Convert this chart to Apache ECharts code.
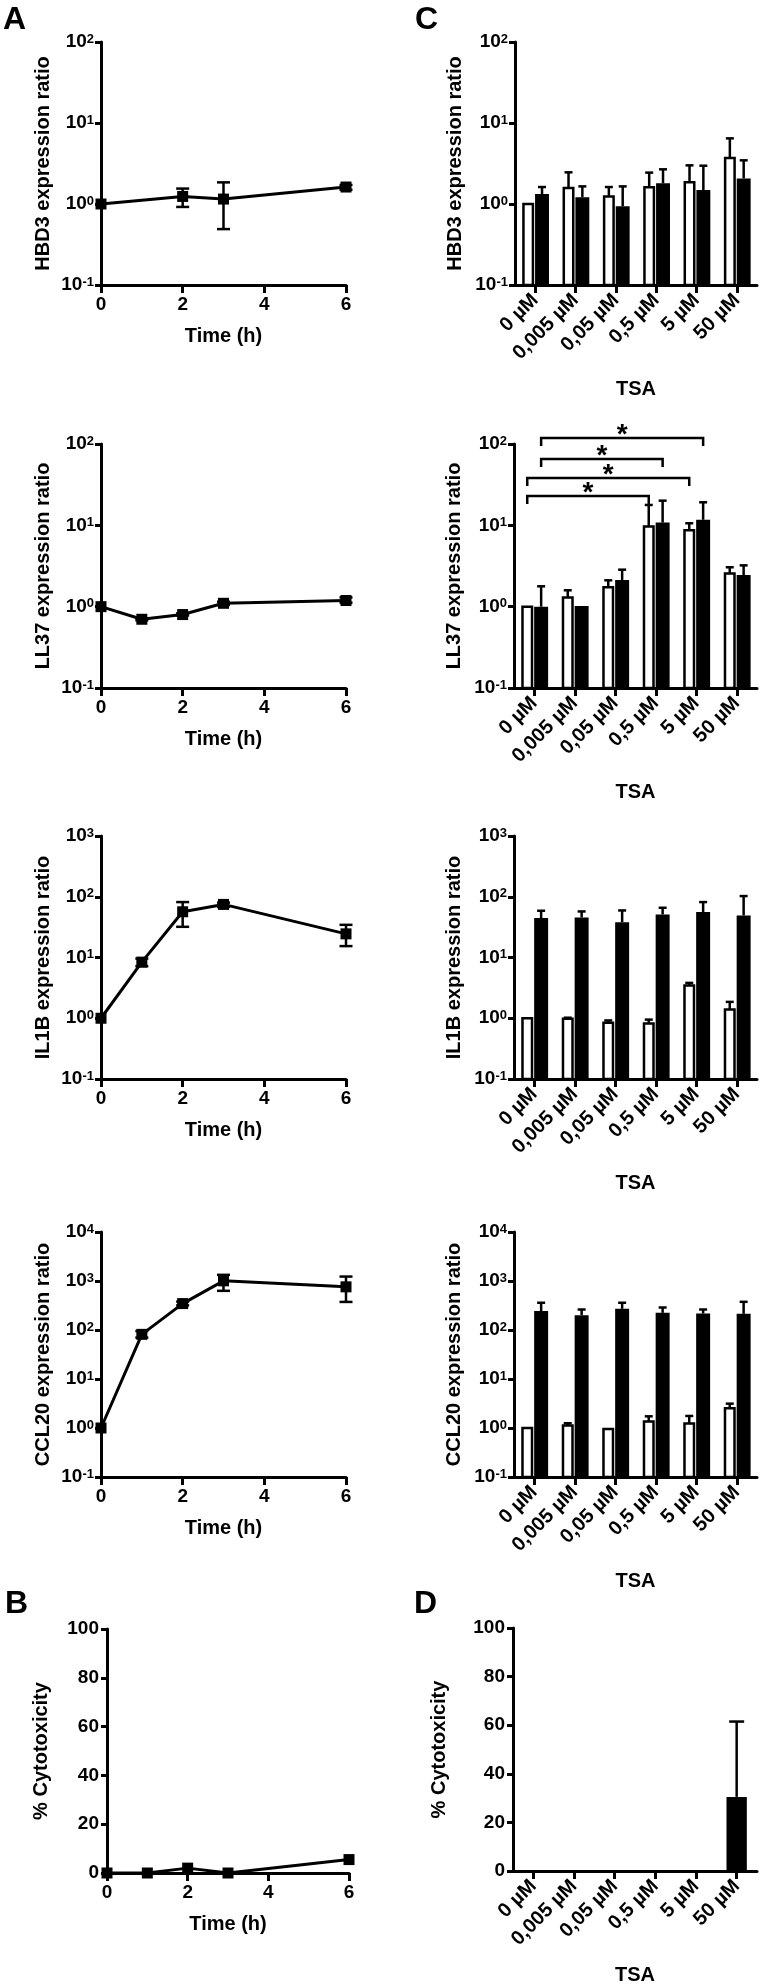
<!DOCTYPE html>
<html>
<head>
<meta charset="utf-8">
<script src="https://cdn.jsdelivr.net/npm/echarts@6/dist/echarts.min.js"></script>
<style>
html, body { margin: 0; padding: 0; background: #fff; }
#main { width: 760px; height: 1986px; }
</style>
</head>
<body>
<div id="main"></div>
<script>
var FONT = '"Liberation Sans", Arial, Helvetica, sans-serif';

// ---- time course data (panels A and B) ----
var hours = [0, 1, 2, 3, 6];
var hoursHBD3 = [0, 2, 3, 6];

var hbd3Time   = [1.0, 1.24, 1.15, 1.62];
var hbd3TimeLo = [null, 0.92, 0.49, 1.5];
var hbd3TimeHi = [null, 1.55, 1.85, 1.72];

var ll37Time   = [1.0, 0.70, 0.80, 1.10, 1.19];
var ll37TimeLo = [null, 0.68, 0.78, 1.05, 1.12];
var ll37TimeHi = [null, 0.72, 0.83, 1.15, 1.30];

var il1bTime   = [1.0, 8.4, 56.6, 74.8, 24.5];
var il1bTimeLo = [null, 7.2, 32, 68, 15.4];
var il1bTimeHi = [null, 9.6, 81.7, 80, 34.5];

var ccl20Time   = [1.0, 81.5, 346, 1007, 760];
var ccl20TimeLo = [null, 70, 318, 630, 374];
var ccl20TimeHi = [null, 95, 380, 1336, 1232];

var cytoTime = [0, 0, 2.0, 0, 5.5];

// ---- TSA dose data (panels C and D) ----
var tsaGroups = ['0 µM', '0,005 µM', '0,05 µM', '0,5 µM', '5 µM', '50 µM'];

var hbd3White   = [1.0, 1.58, 1.24, 1.61, 1.85, 3.7];
var hbd3WhiteHi = [null, 2.46, 1.62, 2.44, 3.0, 6.46];
var hbd3Black   = [1.33, 1.21, 0.94, 1.8, 1.49, 2.07];
var hbd3BlackHi = [1.62, 1.65, 1.65, 2.68, 2.97, 3.46];

var ll37White   = [1.0, 1.30, 1.73, 9.7, 8.7, 2.55];
var ll37WhiteHi = [null, 1.59, 2.11, 17.8, 10.6, 3.05];
var ll37Black   = [1.0, 1.02, 2.13, 10.8, 11.7, 2.45];
var ll37BlackHi = [1.78, null, 2.85, 20.1, 19.2, 3.22];

// significance brackets: [from group, from bar (0 white / 1 black), to group, to bar, level]
var ll37Brackets = [
    [0, 0, 3, 0, 22.9],
    [0, 0, 4, 0, 38.2],
    [0, 1, 3, 1, 65.3],
    [0, 1, 4, 1, 118.6]
];

var il1bWhite   = [1.0, 0.98, 0.84, 0.82, 3.45, 1.39];
var il1bWhiteHi = [null, 1.02, 0.92, 0.95, 3.82, 1.86];
var il1bBlack   = [44.5, 45.6, 38.2, 51.2, 55.9, 49.2];
var il1bBlackHi = [58.8, 57.3, 59.5, 65.9, 81.7, 102.6];

var ccl20White   = [1.0, 1.12, 0.95, 1.35, 1.23, 2.52];
var ccl20WhiteHi = [null, 1.25, null, 1.73, 1.76, 3.14];
var ccl20Black   = [243, 201, 271, 224, 217, 214];
var ccl20BlackHi = [360, 262, 360, 288, 262, 376];

var cytoTsa   = [0, 0, 0, 0, 0, 30.5];
var cytoTsaHi = [null, null, null, null, null, 61.5];

// ---- styling helpers ----
var axisLineStyle = { show: true, onZero: false, lineStyle: { color: '#000', width: 3 } };
var nameStyle = { fontSize: 20, fontWeight: 'bold', fontFamily: FONT, color: '#000' };
var tickFont = { fontSize: 19, fontWeight: 'bold', fontFamily: FONT, color: '#000' };

var WHITE_OFF = -0.173, WHITE_W = 0.235;
var BLACK_OFF = 0.17, BLACK_W = 0.345;

function timeAxis(gi) {
    return {
        type: 'value', gridIndex: gi, min: 0, max: 6, interval: 2,
        name: 'Time (h)', nameLocation: 'middle', nameGap: 41, nameTextStyle: nameStyle,
        axisLine: axisLineStyle,
        axisTick: { show: true, length: 8, lineStyle: { color: '#000', width: 3 } },
        axisLabel: Object.assign({ margin: 10 }, tickFont),
        splitLine: { show: false }
    };
}

function tsaAxis(gi) {
    return {
        type: 'category', gridIndex: gi, data: tsaGroups,
        name: 'TSA', nameLocation: 'middle', nameGap: 94, nameTextStyle: nameStyle,
        axisLine: axisLineStyle,
        axisTick: { show: true, alignWithLabel: true, length: 8, lineStyle: { color: '#000', width: 3 } },
        axisLabel: { rotate: 45, margin: 12, interval: 0, fontSize: 20, fontWeight: 'bold', fontFamily: FONT, color: '#000' },
        splitLine: { show: false }
    };
}

function logAxis(gi, max, name, gap) {
    return {
        type: 'log', logBase: 10, gridIndex: gi, min: 0.1, max: max,
        name: name, nameLocation: 'middle', nameGap: gap, nameTextStyle: nameStyle,
        axisLine: axisLineStyle,
        axisTick: { show: true, length: 6, lineStyle: { color: '#000', width: 3 } },
        axisLabel: {
            margin: 7,
            formatter: function (v) { return '{b|10}{s|' + Math.round(Math.log10(v)) + '}'; },
            rich: {
                b: { fontSize: 19, fontWeight: 'bold', fontFamily: FONT, color: '#000' },
                s: { fontSize: 13, fontWeight: 'bold', fontFamily: FONT, color: '#000', verticalAlign: 'top', lineHeight: 13 }
            }
        },
        splitLine: { show: false },
        minorTick: { show: false }
    };
}

function pctAxis(gi, gap) {
    return {
        type: 'value', gridIndex: gi, min: 0, max: 100, interval: 20,
        name: '% Cytotoxicity', nameLocation: 'middle', nameGap: gap, nameTextStyle: nameStyle,
        axisLine: axisLineStyle,
        axisTick: { show: true, length: 6, lineStyle: { color: '#000', width: 3 } },
        axisLabel: Object.assign({ margin: 8 }, tickFont),
        splitLine: { show: false }
    };
}

function zip(xs, ys) {
    return xs.map(function (x, i) { return [x, ys[i]]; });
}

function lineSeries(gi, xs, ys) {
    return {
        type: 'line', xAxisIndex: gi, yAxisIndex: gi, data: zip(xs, ys),
        symbol: 'rect', symbolSize: 11, clip: false, z: 4,
        itemStyle: { color: '#000' },
        lineStyle: { color: '#000', width: 3 }
    };
}

function errSeries(gi, xs, lo, hi) {
    var data = [];
    xs.forEach(function (x, i) {
        if (lo[i] != null) data.push([x, lo[i], hi[i]]);
    });
    return {
        type: 'custom', xAxisIndex: gi, yAxisIndex: gi, data: data, z: 3, clip: false,
        encode: { x: 0, y: [1, 2] },
        renderItem: function (params, api) {
            var p1 = api.coord([api.value(0), api.value(1)]);
            var p2 = api.coord([api.value(0), api.value(2)]);
            var st = { stroke: '#000', lineWidth: 2.5 };
            var cap = 13;
            return {
                type: 'group', children: [
                    { type: 'line', shape: { x1: p1[0], y1: p1[1], x2: p2[0], y2: p2[1] }, style: st },
                    { type: 'line', shape: { x1: p1[0] - cap / 2, y1: p1[1], x2: p1[0] + cap / 2, y2: p1[1] }, style: st },
                    { type: 'line', shape: { x1: p2[0] - cap / 2, y1: p2[1], x2: p2[0] + cap / 2, y2: p2[1] }, style: st }
                ]
            };
        }
    };
}

// bars drawn from the axis minimum (log axes would otherwise start at 1)
function barSeries(gi, vals, his, offset, width, filled, base, cap) {
    return {
        type: 'custom', xAxisIndex: gi, yAxisIndex: gi, z: 2, clip: false,
        data: vals.map(function (v, i) { return [i, v, his[i] == null ? 0 : his[i]]; }),
        encode: { x: 0, y: 1 },
        renderItem: function (params, api) {
            var i = api.value(0), v = api.value(1), hi = api.value(2);
            var band = api.coord([1, base])[0] - api.coord([0, base])[0];
            var top = api.coord([i, v]);
            var bottom = api.coord([i, base]);
            var cx = top[0] + offset * band;
            var w = width * band;
            var children = [];
            if (hi > v) {
                var ph = api.coord([i, hi]);
                var st = { stroke: '#000', lineWidth: 2.5 };
                children.push({ type: 'line', shape: { x1: cx, y1: top[1], x2: cx, y2: ph[1] }, style: st });
                children.push({ type: 'line', shape: { x1: cx - cap / 2, y1: ph[1], x2: cx + cap / 2, y2: ph[1] }, style: st });
            }
            children.push({
                type: 'rect',
                shape: { x: cx - w / 2, y: top[1], width: w, height: bottom[1] - top[1] },
                style: filled ? { fill: '#000' } : { fill: '#fff', stroke: '#000', lineWidth: 2.5 }
            });
            return { type: 'group', children: children };
        }
    };
}

function bracketSeries(gi, brackets) {
    return {
        type: 'custom', xAxisIndex: gi, yAxisIndex: gi, z: 5, clip: false,
        data: brackets,
        encode: { x: 0, y: 4 },
        renderItem: function (params, api) {
            var g1 = api.value(0), s1 = api.value(1), g2 = api.value(2), s2 = api.value(3), lvl = api.value(4);
            var band = api.coord([1, lvl])[0] - api.coord([0, lvl])[0];
            var a = api.coord([g1, lvl]);
            var b = api.coord([g2, lvl]);
            var x1 = a[0] + (s1 ? BLACK_OFF : WHITE_OFF) * band;
            var x2 = b[0] + (s2 ? BLACK_OFF : WHITE_OFF) * band;
            var y = a[1];
            var drop = 8;
            return {
                type: 'group', children: [
                    { type: 'polyline', shape: { points: [[x1, y + drop], [x1, y], [x2, y], [x2, y + drop]] },
                      style: { stroke: '#000', lineWidth: 2.5, fill: null } },
                    { type: 'text', x: (x1 + x2) / 2, y: y - 3,
                      style: { text: '*', fill: '#000', font: 'bold 28px ' + FONT, textAlign: 'center', textVerticalAlign: 'middle' } }
                ]
            };
        }
    };
}

var grids = [
    { left: 101, top: 42, width: 245, height: 243 },
    { left: 515, top: 42, width: 242, height: 243 },
    { left: 101, top: 444, width: 245, height: 244 },
    { left: 514, top: 444, width: 243, height: 244 },
    { left: 101, top: 836, width: 245, height: 243 },
    { left: 514, top: 836, width: 243, height: 243 },
    { left: 101, top: 1232, width: 245, height: 245 },
    { left: 514, top: 1232, width: 243, height: 245 },
    { left: 107, top: 1629, width: 242, height: 244 },
    { left: 513, top: 1628, width: 244, height: 243 }
];
grids.forEach(function (g) { g.outerBoundsMode = 'none'; g.containLabel = false; });

var myChart = echarts.init(document.getElementById('main'), null, { renderer: 'canvas' });

var option = {
    backgroundColor: '#fff',
    animation: false,
    textStyle: { fontFamily: FONT },
    grid: grids,
    xAxis: [
        timeAxis(0), tsaAxis(1),
        timeAxis(2), tsaAxis(3),
        timeAxis(4), tsaAxis(5),
        timeAxis(6), tsaAxis(7),
        timeAxis(8), tsaAxis(9)
    ],
    yAxis: [
        logAxis(0, 100, 'HBD3 expression ratio', 48),
        logAxis(1, 100, 'HBD3 expression ratio', 50),
        logAxis(2, 100, 'LL37 expression ratio', 48),
        logAxis(3, 100, 'LL37 expression ratio', 50),
        logAxis(4, 1000, 'IL1B expression ratio', 48),
        logAxis(5, 1000, 'IL1B expression ratio', 50),
        logAxis(6, 10000, 'CCL20 expression ratio', 48),
        logAxis(7, 10000, 'CCL20 expression ratio', 50),
        pctAxis(8, 56),
        pctAxis(9, 64)
    ],
    graphic: [
        { type: 'text', left: 3, top: 4, style: { text: 'A', font: 'bold 32px ' + FONT, fill: '#000' } },
        { type: 'text', left: 415, top: 4, style: { text: 'C', font: 'bold 32px ' + FONT, fill: '#000' } },
        { type: 'text', left: 5, top: 1588, style: { text: 'B', font: 'bold 32px ' + FONT, fill: '#000' } },
        { type: 'text', left: 414, top: 1588, style: { text: 'D', font: 'bold 32px ' + FONT, fill: '#000' } }
    ],
    series: [
        // A: time course
        errSeries(0, hoursHBD3, hbd3TimeLo, hbd3TimeHi),
        lineSeries(0, hoursHBD3, hbd3Time),
        errSeries(2, hours, ll37TimeLo, ll37TimeHi),
        lineSeries(2, hours, ll37Time),
        errSeries(4, hours, il1bTimeLo, il1bTimeHi),
        lineSeries(4, hours, il1bTime),
        errSeries(6, hours, ccl20TimeLo, ccl20TimeHi),
        lineSeries(6, hours, ccl20Time),
        // C: TSA dose
        barSeries(1, hbd3White, hbd3WhiteHi, WHITE_OFF, WHITE_W, false, 0.1, 8),
        barSeries(1, hbd3Black, hbd3BlackHi, BLACK_OFF, BLACK_W, true, 0.1, 8),
        barSeries(3, ll37White, ll37WhiteHi, WHITE_OFF, WHITE_W, false, 0.1, 8),
        barSeries(3, ll37Black, ll37BlackHi, BLACK_OFF, BLACK_W, true, 0.1, 8),
        bracketSeries(3, ll37Brackets),
        barSeries(5, il1bWhite, il1bWhiteHi, WHITE_OFF, WHITE_W, false, 0.1, 8),
        barSeries(5, il1bBlack, il1bBlackHi, BLACK_OFF, BLACK_W, true, 0.1, 8),
        barSeries(7, ccl20White, ccl20WhiteHi, WHITE_OFF, WHITE_W, false, 0.1, 8),
        barSeries(7, ccl20Black, ccl20BlackHi, BLACK_OFF, BLACK_W, true, 0.1, 8),
        // B and D: cytotoxicity
        lineSeries(8, hours, cytoTime),
        barSeries(9, cytoTsa, cytoTsaHi, 0, 0.5, true, 0, 15)
    ]
};
myChart.setOption(option);
</script>
</body>
</html>
